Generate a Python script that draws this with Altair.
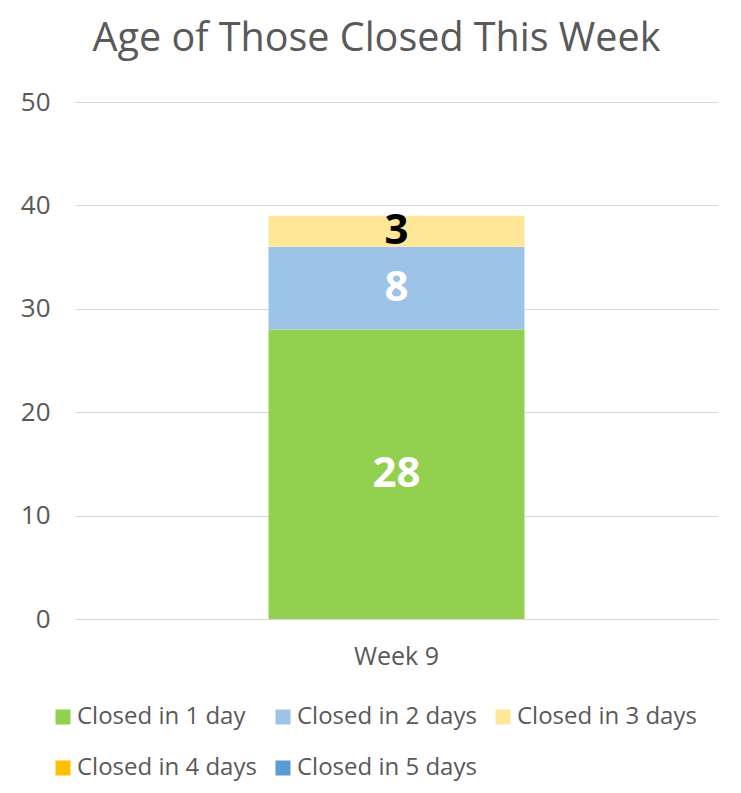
import altair as alt
import pandas as pd

categories = ["Week 9"]
series = ["Closed in 1 day", "Closed in 2 days", "Closed in 3 days", "Closed in 4 days", "Closed in 5 days"]
values = [28, 8, 3, 0, 0]
colors = ["#92D050", "#9DC3E6", "#FFE699", "#FFC000", "#5B9BD5"]
label_colors = ["#FFFFFF", "#FFFFFF", "#000000", "#000000", "#000000"]

df = pd.DataFrame({
    "week": categories * len(series),
    "series": series,
    "value": values,
    "order": list(range(len(series))),
    "lc": label_colors,
})

FONT = "Open Sans"
GRAY = "#595959"

x = alt.X("week:N", title=None,
          scale=alt.Scale(paddingInner=0, paddingOuter=0.756),
          axis=alt.Axis(labelAngle=0, labelFontSize=25, labelColor=GRAY, labelFont=FONT,
                        domain=False, ticks=False, labelPadding=25))
y = alt.Y("value:Q", title=None, stack="zero",
          scale=alt.Scale(domain=[0, 50]),
          axis=alt.Axis(values=[0, 10, 20, 30, 40, 50], labelFontSize=26, labelColor=GRAY,
                        labelFont=FONT, domain=False, ticks=False, gridColor="#D9D9D9",
                        labelPadding=25))

bars = alt.Chart(df).mark_bar().encode(
    x=x, y=y,
    color=alt.Color("series:N", sort=series,
                    scale=alt.Scale(domain=series, range=colors),
                    legend=alt.Legend(title=None, orient="none", legendX=-24, legendY=603,
                                      direction="horizontal", columns=3, gridAlign="none",
                                      symbolType="square", symbolSize=225, symbolStrokeWidth=0,
                                      labelFontSize=24, labelColor=GRAY, labelFont=FONT,
                                      labelOffset=2, columnPadding=14, rowPadding=27,
                                      labelLimit=400)),
    order=alt.Order("order:Q"),
)

labels = alt.Chart(df).transform_window(
    cum="sum(value)", sort=[alt.SortField("order")], groupby=["week"]
).transform_calculate(
    mid="datum.cum - datum.value / 2"
).transform_filter("datum.value > 0").mark_text(
    fontSize=42, fontWeight="bold", font=FONT, baseline="middle"
).encode(
    x=alt.X("week:N"),
    y=alt.Y("mid:Q"),
    text=alt.Text("value:Q"),
    color=alt.Color("lc:N", scale=None),
)

chart = alt.layer(bars, labels).properties(
    width=643, height=517,
    title=alt.Title("Age of Those Closed This Week", fontSize=39.5, font=FONT, color=GRAY,
                    fontWeight="normal", offset=30, dx=-20, anchor="middle"),
    autosize=alt.AutoSizeParams(type="none"),
    padding={"left": 67, "top": 94, "right": 15, "bottom": 170},
).configure_view(stroke=None)

chart.save("out.html", embed_options={"renderer": "svg", "actions": False})
